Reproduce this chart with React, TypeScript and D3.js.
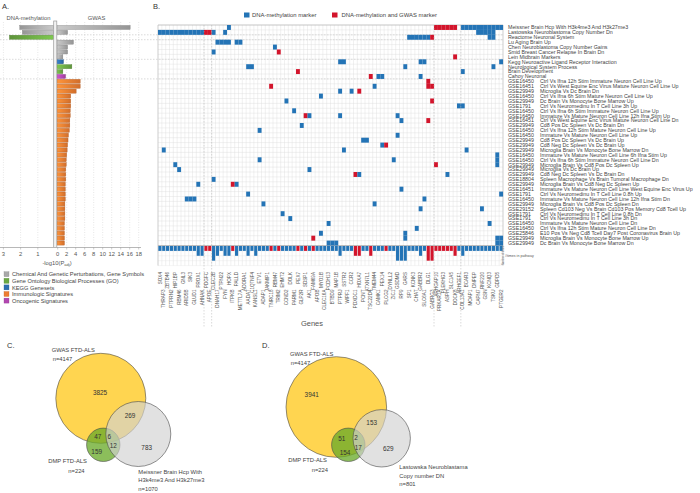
import React from "react";
import * as d3 from "d3";

const FONT = "'Liberation Sans', Arial, sans-serif";

// ---------- Panel A / B rows ----------
const rowIds = [
  "", "", "", "", "", "", "", "", "", "", "",
  "GSE16450", "GSE16451", "GSE29949", "GSE16450", "GSE29949", "GSE1791", "GSE16450", "GSE16450", "GSE16451",
  "GSE29949", "GSE16450", "GSE16450", "GSE29949", "GSE29949", "GSE29949", "GSE16450", "GSE16450", "GSE29949",
  "GSE29949", "GSE29949", "GSE18804", "GSE29949", "GSE16451", "GSE1791", "GSE16450", "GSE29949", "GSE29152",
  "GSE1791", "GSE1791", "GSE16450", "GSE16450", "GSE25846", "GSE29949", "GSE29949",
];
const rowDesc = [
  "Meissner Brain Hcp With H3k4me3 And H3k27me3",
  "Lastowska Neuroblastoma Copy Number Dn",
  "Reactome Neuronal System",
  "Lu Aging Brain Up",
  "Chen Neuroblastoma Copy Number Gains",
  "Smid Breast Cancer Relapse In Brain Dn",
  "Lein Midbrain Markers",
  "Kegg Neuroactive Ligand Receptor Interaction",
  "Neurological System Process",
  "Brain Development",
  "Cahoy Neuronal",
  "Ctrl Vs Ifna 12h Stim Immature Neuron Cell Line Up",
  "Ctrl Vs West Equine Enc Virus Mature Neuron Cell Line Up",
  "Microglia Vs Dc Brain Dn",
  "Ctrl Vs Ifna 6h Stim Mature Neuron Cell Line Up",
  "Dc Brain Vs Monocyte Bone Marrow Up",
  "Ctrl Vs Neuromedinu In T Cell Line 3h Up",
  "Ctrl Vs Ifna 6h Stim Immature Neuron Cell Line Up",
  "Immature Vs Mature Neuron Cell Line 12h Ifna Stim Up",
  "Ctrl Vs West Equine Enc Virus Mature Neuron Cell Line Dn",
  "Cd8 Pos Dc Spleen Vs Dc Brain Dn",
  "Ctrl Vs Ifna 12h Stim Mature Neuron Cell Line Up",
  "Immature Vs Mature Neuron Cell Line Up",
  "Cd8 Pos Dc Spleen Vs Dc Brain Up",
  "Cd8 Neg Dc Spleen Vs Dc Brain Up",
  "Microglia Brain Vs Monocyte Bone Marrow Dn",
  "Immature Vs Mature Neuron Cell Line 6h Ifna Stim Up",
  "Ctrl Vs Ifna 6h Stim Immature Neuron Cell Line Dn",
  "Microglia Brain Vs Cd8 Pos Dc Spleen Up",
  "Microglia Vs Dc Brain Up",
  "Cd8 Neg Dc Spleen Vs Dc Brain Dn",
  "Spleen Macrophage Vs Brain Tumoral Macrophage Dn",
  "Microglia Brain Vs Cd8 Neg Dc Spleen Up",
  "Immature Vs Mature Neuron Cell Line West Equine Enc Virus Up",
  "Ctrl Vs Neuromedinu In T Cell Line 0.8h Up",
  "Immature Vs Mature Neuron Cell Line 12h Ifna Stim Dn",
  "Microglia Brain Vs Cd8 Pos Dc Spleen Dn",
  "Spleen Cd103 Neg Vs Brain Cd103 Pos Memory Cd8 Tcell Up",
  "Ctrl Vs Neuromedinu In T Cell Line 0.8h Dn",
  "Ctrl Vs Neuromedinu In T Cell Line 3h Dn",
  "Immature Vs Mature Neuron Cell Line Dn",
  "Ctrl Vs Ifna 12h Stim Mature Neuron Cell Line Dn",
  "E10 Pos Vs Neg Cd8 Tcell Day7 Post Coronavirus Brain Up",
  "Microglia Brain Vs Monocyte Bone Marrow Up",
  "Dc Brain Vs Monocyte Bone Marrow Dn",
];
// category per row: 0 chem/gen, 1 GO, 2 KEGG, 3 immunologic, 4 oncogenic
const rowCategory = [
  0, 0, 1, 0, 0, 0, 0, 2, 1, 1, 4,
  3, 3, 3, 3, 3, 3, 3, 3, 3, 3, 3, 3, 3, 3, 3, 3, 3, 3, 3, 3, 3, 3, 3, 3, 3, 3, 3, 3, 3, 3, 3, 3, 3, 3,
];
const dnaMethylation = [
  2.05, 1.9, 2.65, 0, 0, 0, 0, 0, 0, 0, 0,
  0, 0, 0, 0, 0, 0, 0, 0, 0, 0, 0, 0, 0, 0, 0, 0, 0, 0, 0, 0, 0, 0, 0, 0, 0, 0, 0, 0, 0, 0, 0, 0, 0, 0,
];
const gwas = [
  16.1, 2.2, 0, 3.5, 2.2, 2.2, 1.15, 1.3, 3.15, 1.15, 1.75,
  5.0, 5.0, 4.1, 2.9, 2.9, 2.9, 2.8, 2.8, 2.7, 2.7, 2.6, 2.4, 2.3, 2.2, 2.1, 2.0,
  1.9, 1.9, 1.8, 1.8, 1.8, 1.7, 1.7, 1.7, 1.7, 1.6, 1.6, 1.6, 1.6, 1.5, 1.5, 1.5, 1.5, 1.5,
];
const categoryLabels = [
  "Chemical And Genetic Perturbations, Gene Symbols",
  "Gene Ontology Biological Processes (GO)",
  "KEGG Genesets",
  "Immunologic Signatures",
  "Oncogenic Signatures",
];
const categoryColors = ["#a9a9a9", "#6aa843", "#2e6fb0", "#ed7d31", "#b247b0"];
const leftTicks = [1, 2, 3];
const rightTicks = [0, 2, 4, 6, 8, 10, 12, 14, 16, 18];
const groupBreakRows = [2, 3, 7, 11];

// ---------- Panel B genes ----------
const genes = [
  "SOX4", "THRAP3", "ZBTB46", "PTPRN2", "HIP1BP", "RBM46", "GNL3", "ARID5B", "SIK3", "GLUD1",
  "PROX1", "AHNAK", "PDGFC", "APOE", "CLEC2B", "DNAH17", "PTPN22", "FYN", "HOPX", "ITPKB",
  "PALLD", "METTL7A", "ADORA1", "AADAT", "C1QTNF4", "KANSL1", "ETV1", "ADAP1", "JAKMIP1", "TNRC18",
  "RBM47", "TRIM2", "EHMT2", "CCND2", "DOLK", "PARM1", "PEX7", "GLP2R", "SDSP1", "AK1",
  "FAM69A", "APOB", "MYO1B", "CLEC16A", "PCDH13", "BTBD9", "MAP1B", "PTPRJ", "SSTR2", "WIPF1",
  "CCR2", "PDXDC1", "HOXA7", "PCNT", "ATXN7L1", "TSC22D4", "TMEM44", "CAMK1", "PEX14", "PLCG2",
  "DYNLL2", "ZIC1", "GSDMD", "RP9", "GARS", "SP1", "KCNK3", "CHAT", "GABBR2", "SLC6A1",
  "DLG1", "GABRG3", "ARHGAP10", "PRKAR1A", "PLEKHG3", "ASPH", "SLC1A5", "DOCK8", "ARHGEF1", "COL13A1",
  "BCAR3", "MOAP1", "DNPEP", "CAPN7", "RNF220", "GSN", "KCNQ3", "TSKU", "GDPD5", "PTGER2",
];
// [row, firstGene, lastGene, type]  type: "m" = DNA-methylation marker, "g" = DNA-methylation and GWAS marker
const cellSegments: [number, number, number, string][] = [
  [0, 18, 18, "m"], [0, 72, 77, "g"], [0, 79, 89, "m"],
  [1, 0, 11, "m"], [1, 12, 13, "g"], [1, 14, 14, "m"], [1, 17, 17, "m"], [1, 83, 87, "m"],
  [2, 65, 70, "m"], [2, 71, 71, "g"], [2, 86, 87, "m"],
  [3, 15, 18, "m"], [3, 20, 21, "m"],
  [4, 30, 30, "m"],
  [5, 14, 14, "m"], [5, 31, 31, "g"],
  [6, 77, 77, "g"],
  [7, 47, 48, "m"], [7, 68, 69, "m"], [7, 89, 89, "m"],
  [8, 23, 24, "m"], [8, 64, 64, "m"], [8, 87, 87, "m"],
  [9, 36, 36, "g"], [9, 79, 79, "m"],
  [10, 55, 55, "g"], [10, 57, 58, "m"], [10, 68, 68, "m"],
  [11, 70, 70, "g"],
  [12, 29, 29, "g"], [12, 56, 56, "m"], [12, 70, 71, "g"],
  [13, 47, 47, "m"], [13, 50, 50, "m"], [13, 52, 52, "g"],
  [14, 42, 42, "m"],
  [15, 33, 33, "m"], [15, 71, 71, "g"],
  [16, 78, 79, "m"],
  [17, 35, 35, "m"],
  [18, 38, 38, "g"], [18, 39, 39, "m"], [18, 47, 47, "m"], [18, 62, 62, "m"],
  [19, 63, 63, "m"], [19, 70, 70, "g"],
  [20, 37, 37, "m"],
  [21, 26, 26, "m"],
  [22, 62, 62, "m"],
  [23, 53, 54, "m"],
  [24, 58, 58, "m"], [24, 59, 59, "g"],
  [25, 1, 1, "m"], [25, 48, 48, "m"], [25, 80, 80, "m"],
  [26, 88, 88, "m"],
  [27, 26, 26, "m"], [27, 61, 61, "m"], [27, 88, 88, "m"],
  [28, 4, 4, "m"], [28, 72, 72, "g"], [28, 88, 88, "m"],
  [29, 5, 5, "m"], [29, 39, 39, "m"],
  [30, 51, 51, "g"], [30, 52, 52, "m"], [30, 75, 75, "m"],
  [31, 14, 14, "m"],
  [32, 10, 10, "m"], [32, 19, 19, "g"], [32, 20, 20, "m"],
  [33, 63, 63, "m"],
  [34, 23, 23, "m"], [34, 89, 89, "m"],
  [35, 7, 9, "m"], [35, 69, 69, "m"],
  [36, 27, 27, "m"], [36, 56, 56, "m"],
  [37, 68, 68, "m"], [37, 84, 84, "m"],
  [38, 32, 32, "m"],
  [39, 34, 34, "m"],
  [40, 44, 44, "m"], [40, 86, 86, "m"],
  [41, 67, 67, "m"],
  [42, 42, 42, "m"], [42, 64, 64, "m"],
  [43, 40, 40, "g"], [43, 64, 64, "m"], [43, 88, 89, "m"],
  [44, 44, 46, "m"], [44, 88, 89, "m"],
];
const geneCounts = [
  1, 1, 1, 1, 1, 1, 1, 1, 1, 1,
  2, 2, 1, 1, 3, 2, 1, 2, 2, 1,
  2, 1, 1, 2, 1, 2, 1, 1, 1, 1,
  1, 1, 1, 1, 1, 1, 1, 1, 1, 1,
  1, 1, 1, 1, 1, 1, 1, 2, 1, 1,
  1, 2, 2, 1, 1, 2, 1, 1, 1, 1,
  1, 1, 3, 3, 3, 1, 1, 1, 2, 1,
  3, 3, 1, 1, 1, 1, 1, 2, 1, 2,
  1, 1, 1, 1, 1, 1, 1, 1, 1, 1,
];
const gwasMarkerGenes = [12, 13, 19, 29, 31, 36, 38, 40, 51, 52, 55, 59, 70, 71, 72, 73, 74, 75, 76, 77];
const groupBreakCols = [12, 14, 72, 79];
const markerLegend = ["DNA-methylation marker", "DNA-methylation and GWAS marker"];
const BLUE = "#2474b6";
const RED = "#d3152c";

// ---------- Venn panels ----------
const vennSetsC = ["GWAS FTD-ALS", "DMP FTD-ALS", "Meissner Brain Hcp With H3k4me3 And H3k27me3"];
const vennCountsC = [3825, 47, 159, 6, 12, 269, 783];
const vennSizesC = [4147, 224, 1070];
const vennCountsD = [3941, 51, 154, 2, 17, 153, 629];
const vennSizesD = [4147, 224, 801];

const YELLOW = "rgb(255,213,80)";
const GREEN = "rgb(106,171,41)";
const GREY = "rgb(210,210,210)";

type Circle = { cx: number; cy: number; r: number };
const layoutC = {
  circles: [
    { cx: 100.8, cy: 398.3, r: 45 },
    { cx: 103.3, cy: 444.8, r: 16.7 },
    { cx: 138.3, cy: 434, r: 32.5 },
  ] as Circle[],
  numPos: [[100, 395], [97.7, 439], [96.7, 454], [109.3, 439], [113.3, 448], [130, 418], [146.7, 450]],
};
const layoutD = {
  circles: [
    { cx: 336.3, cy: 407, r: 50.3 },
    { cx: 348.3, cy: 444.8, r: 16.7 },
    { cx: 381.7, cy: 438.3, r: 28.7 },
  ] as Circle[],
  numPos: [[311.7, 397], [341.7, 441], [345, 454.5], [356, 440], [358.3, 449.5], [371.7, 424.5], [388.3, 451]],
};

function Venn({ layout, counts }: { layout: typeof layoutC; counts: number[] }) {
  const fills = [YELLOW, GREEN, GREY];
  const ops = [1, 0.77, 0.66];
  return (
    <g>
      {layout.circles.map((c, i) => (
        <circle key={i} cx={c.cx} cy={c.cy} r={c.r} fill={fills[i]} fillOpacity={ops[i]} stroke="#4a4a4a" strokeWidth={0.6} />
      ))}
      {counts.map((v, i) => (
        <text key={"n" + i} x={layout.numPos[i][0]} y={layout.numPos[i][1]} textAnchor="middle" fontSize={6.4} fill="#333">
          {v}
        </text>
      ))}
    </g>
  );
}

export default function App() {
  const W = 700, H = 493;
  const yRow = d3.scaleBand<number>().domain(d3.range(rowDesc.length)).range([25, 245.5]);
  const rh = yRow.bandwidth();
  const xL = d3.scaleLinear().domain([0, 3]).range([55, 3.4]);
  const xR = d3.scaleLinear().domain([0, 18]).range([57.7, 138.7]);
  const xCol = d3.scaleBand<number>().domain(d3.range(genes.length)).range([158, 503]);
  const cw = xCol.bandwidth();
  const histTop = 246;
  const yCount = d3.scaleLinear().domain([0, 4]).range([histTop, histTop + 4 * rh]);
  const gridBottom = yCount(4);
  const axisY = 247.5;

  const cells: { r: number; c: number; t: string }[] = [];
  cellSegments.forEach(([r, c0, c1, t]) => {
    for (let c = c0; c <= c1; c++) cells.push({ r, c, t });
  });
  const redSet = new Set(gwasMarkerGenes);

  return (
    <svg width={W} height={H} style={{ position: "absolute", left: 0, top: 0, background: "#fff" }} fontFamily={FONT}>
      <defs>
        {categoryColors.map((c, i) => {
          const col = d3.color(c)!;
          return (
            <React.Fragment key={i}>
              <linearGradient id={"gr" + i} x1="0" x2="1" y1="0" y2="0">
                <stop offset="0" stopColor={col.brighter(0.5).formatHex()} />
                <stop offset="1" stopColor={col.darker(0.35).formatHex()} />
              </linearGradient>
              <linearGradient id={"gl" + i} x1="1" x2="0" y1="0" y2="0">
                <stop offset="0" stopColor={col.brighter(0.5).formatHex()} />
                <stop offset="1" stopColor={col.darker(0.35).formatHex()} />
              </linearGradient>
            </React.Fragment>
          );
        })}
      </defs>

      {/* ================= Panel A ================= */}
      <text x={2} y={8.5} fontSize={7.5} fill="#333">A.</text>
      <text x={28.5} y={19.5} fontSize={5.8} fill="#555" textAnchor="middle">DNA-methylation</text>
      <text x={96.5} y={19.5} fontSize={5.8} fill="#555" textAnchor="middle">GWAS</text>

      {/* vertical dotted grid */}
      {leftTicks.map((t) => (
        <line key={"gl" + t} x1={xL(t)} x2={xL(t)} y1={22} y2={axisY} stroke="#cfcfcf" strokeWidth={0.5} strokeDasharray="1,1.5" />
      ))}
      {rightTicks.filter((t) => t > 0).map((t) => (
        <line key={"gr" + t} x1={xR(t)} x2={xR(t)} y1={22} y2={axisY} stroke="#cfcfcf" strokeWidth={0.5} strokeDasharray="1,1.5" />
      ))}

      {/* group break dashed lines across A and B */}
      {groupBreakRows.map((r) => (
        <line key={"hb" + r} x1={0} x2={503} y1={yRow(r)!} y2={yRow(r)!} stroke="#b5b5b5" strokeWidth={0.5} strokeDasharray="1.5,1.5" />
      ))}

      {/* bars */}
      {dnaMethylation.map((v, i) =>
        v > 0 ? (
          <rect key={"dm" + i} x={xL(v)} y={yRow(i)! + rh * 0.08} width={53.6 - xL(v)} height={rh * 0.84}
            fill={`url(#gl${rowCategory[i]})`} stroke={d3.color(categoryColors[rowCategory[i]])!.darker(0.8).formatHex()} strokeWidth={0.35} />
        ) : null
      )}
      {gwas.map((v, i) =>
        v > 0 ? (
          <rect key={"gw" + i} x={57} y={yRow(i)! + rh * 0.08} width={xR(v) - 57} height={rh * 0.84}
            fill={`url(#gr${rowCategory[i]})`} stroke={d3.color(categoryColors[rowCategory[i]])!.darker(0.8).formatHex()} strokeWidth={0.35} />
        ) : null
      )}

      {/* divider */}
      <rect x={53.7} y={21} width={3.1} height={axisY - 21} fill="#f2f2f2" stroke="#9a9a9a" strokeWidth={0.7} />

      {/* axis */}
      <line x1={0} x2={53.7} y1={axisY} y2={axisY} stroke="#9a9a9a" strokeWidth={0.7} />
      <line x1={56.8} x2={141} y1={axisY} y2={axisY} stroke="#9a9a9a" strokeWidth={0.7} />
      {leftTicks.map((t) => (
        <g key={"lt" + t}>
          <line x1={xL(t)} x2={xL(t)} y1={axisY} y2={axisY + 2} stroke="#9a9a9a" strokeWidth={0.5} />
          <text x={xL(t)} y={255.5} fontSize={5.8} fill="#555" textAnchor="middle">{t}</text>
        </g>
      ))}
      {rightTicks.map((t) => (
        <g key={"rt" + t}>
          <line x1={xR(t)} x2={xR(t)} y1={axisY} y2={axisY + 2} stroke="#9a9a9a" strokeWidth={0.5} />
          <text x={xR(t)} y={255.5} fontSize={5.8} fill="#555" textAnchor="middle">{t}</text>
        </g>
      ))}
      <text x={57} y={264.5} fontSize={5.8} fill="#555" textAnchor="middle">
        -log10(P<tspan fontSize={4} dy={1.2}>adj</tspan><tspan dy={-1.2}>)</tspan>
      </text>

      {/* legend A */}
      {categoryLabels.map((lab, i) => (
        <g key={"lg" + i}>
          <rect x={4} y={271.7 + i * 6.6} width={5} height={5} fill={categoryColors[i]} stroke={d3.color(categoryColors[i])!.darker(0.6).formatHex()} strokeWidth={0.3} />
          <text x={12} y={276.3 + i * 6.6} fontSize={5.7} fill="#444">{lab}</text>
        </g>
      ))}

      {/* ================= Panel B ================= */}
      <text x={153} y={9} fontSize={7.5} fill="#333">B.</text>
      <rect x={244} y={12.5} width={5.5} height={5} fill={BLUE} />
      <text x={252} y={17.3} fontSize={5.9} fill="#444">{markerLegend[0]}</text>
      <rect x={332} y={12.5} width={5.5} height={5} fill={RED} />
      <text x={341.5} y={17.3} fontSize={5.9} fill="#444">{markerLegend[1]}</text>

      {/* grid */}
      {d3.range(genes.length + 1).map((k) => {
        const x = xCol.range()[0] + k * cw;
        return <line key={"vc" + k} x1={x} x2={x} y1={25} y2={gridBottom} stroke="#dcdcdc" strokeWidth={0.4} />;
      })}
      {d3.range(rowDesc.length + 1).map((k) => {
        const y = 25 + k * rh;
        return <line key={"hr" + k} x1={158} x2={503} y1={y} y2={y} stroke="#dcdcdc" strokeWidth={0.4} />;
      })}
      {d3.range(1, 5).map((k) => (
        <line key={"hh" + k} x1={158} x2={503} y1={yCount(k)} y2={yCount(k)} stroke="#e6e6e6" strokeWidth={0.4} />
      ))}
      <line x1={158} x2={503} y1={25} y2={25} stroke="#b0b0b0" strokeWidth={0.6} />
      <line x1={158} x2={503} y1={245.5} y2={245.5} stroke="#a8a8a8" strokeWidth={0.7} />
      <line x1={503} x2={503} y1={25} y2={gridBottom} stroke="#b0b0b0" strokeWidth={0.5} />
      <line x1={158} x2={158} y1={25} y2={gridBottom} stroke="#b0b0b0" strokeWidth={0.5} />

      {/* cells */}
      {cells.map((d, i) => (
        <rect key={"c" + i} x={xCol(d.c)!} y={yRow(d.r)!} width={cw + 0.05} height={rh + 0.05} fill={d.t === "g" ? RED : BLUE} />
      ))}

      {/* gene count histogram */}
      {geneCounts.map((n, c) => (
        <rect key={"h" + c} x={xCol(c)! + 0.35} y={histTop} width={cw - 0.7} height={yCount(n) - histTop} fill={redSet.has(c) ? RED : BLUE} />
      ))}
      <text x={505} y={257} fontSize={3.6} fill="#555">#times in pathway</text>
      <text transform={`translate(503.8,265) rotate(-90)`} fontSize={2.6} fill="#777">Number of times</text>

      {/* vertical group breaks */}
      {groupBreakCols.map((c) => {
        const x = xCol(c)!;
        return <line key={"vb" + c} x1={x} x2={x} y1={25} y2={328} stroke="#b5b5b5" strokeWidth={0.5} strokeDasharray="1.5,1.5" />;
      })}

      {/* row labels */}
      {rowDesc.map((d, i) => {
        const y = yRow(i)! + rh / 2 + 1.9;
        return rowIds[i] ? (
          <g key={"rl" + i}>
            <text x={508} y={y} fontSize={5.3} fill="#444">{rowIds[i]}</text>
            <text x={540} y={y} fontSize={5.3} fill="#444">{d}</text>
          </g>
        ) : (
          <text key={"rl" + i} x={508} y={y} fontSize={5.3} fill="#444">{d}</text>
        );
      })}

      {/* gene labels */}
      {genes.map((g, c) => {
        const x = xCol(c)! + cw / 2 + 1.6;
        const y = c % 2 === 0 ? 272 : 289.5;
        return (
          <text key={"g" + c} transform={`translate(${x},${y}) rotate(-90)`} fontSize={4.6} fill="#555" textAnchor="end">
            {g}
          </text>
        );
      })}
      <text x={312} y={326} fontSize={7.5} fill="#555" textAnchor="middle">Genes</text>

      {/* ================= Panel C ================= */}
      <text x={7} y={348} fontSize={7.5} fill="#333">C.</text>
      <Venn layout={layoutC} counts={vennCountsC} />
      <text x={51.7} y={352} fontSize={5.8} fill="#444">{vennSetsC[0]}</text>
      <text x={52.7} y={361} fontSize={5.8} fill="#444">n={vennSizesC[0]}</text>
      <text x={48.3} y={463} fontSize={5.8} fill="#444">{vennSetsC[1]}</text>
      <text x={68.3} y={472.5} fontSize={5.8} fill="#444">n={vennSizesC[1]}</text>
      <text x={138.3} y={473.5} fontSize={5.8} fill="#444">Meissner Brain Hcp With</text>
      <text x={138.3} y={482} fontSize={5.8} fill="#444">H3k4me3 And H3k27me3</text>
      <text x={138.3} y={491} fontSize={5.8} fill="#444">n={vennSizesC[2]}</text>

      {/* ================= Panel D ================= */}
      <text x={262} y={348} fontSize={7.5} fill="#333">D.</text>
      <Venn layout={layoutD} counts={vennCountsD} />
      <text x={290} y={356} fontSize={5.8} fill="#444">{vennSetsC[0]}</text>
      <text x={290.7} y={365.2} fontSize={5.8} fill="#444">n={vennSizesD[0]}</text>
      <text x={288.3} y={462} fontSize={5.8} fill="#444">{vennSetsC[1]}</text>
      <text x={311.7} y={472} fontSize={5.8} fill="#444">n={vennSizesD[1]}</text>
      <text x={399.3} y={468.7} fontSize={5.8} fill="#444">Lastowska Neuroblastama</text>
      <text x={399.3} y={477.7} fontSize={5.8} fill="#444">Copy number DN</text>
      <text x={399.3} y={486} fontSize={5.8} fill="#444">n={vennSizesD[2]}</text>
    </svg>
  );
}
